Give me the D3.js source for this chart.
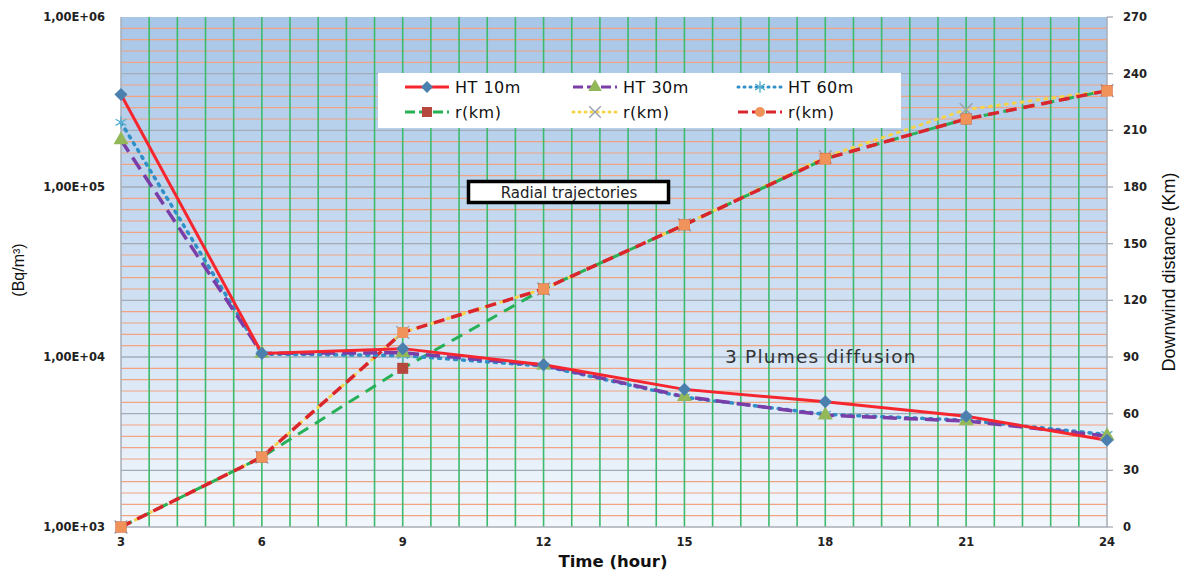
<!DOCTYPE html>
<html>
<head>
<meta charset="utf-8">
<script src="https://cdn.jsdelivr.net/npm/d3@7"></script>
<style>
  body { margin: 0; background: #fff; }
  svg { display: block; }
  .tick-label { font-family: "DejaVu Sans", Verdana, sans-serif; font-size: 11.5px; font-weight: bold; fill: #222; }
  .legend-text { font-family: "DejaVu Sans", Verdana, sans-serif; font-size: 16px; letter-spacing: 0.5px; fill: #111; }
</style>
</head>
<body>
<svg id="chart"></svg>
<script>
// hours on the x axis
const hours = [3, 6, 9, 12, 15, 18, 21, 24]

// concentration (Bq/m3), left log axis
const ht10 = [350000, 10500, 11200, 9000, 6450, 5450, 4480, 3240]
const ht30 = [189000, 10500, 10600, 8950, 5850, 4550, 4200, 3430]
const ht60 = [240000, 10400, 10200, 8850, 5800, 4600, 4250, 3500]

// downwind distance (km), right axis
const rGreen = [0, 37, 84, 126, 160, 195, 216, 231]
const rYellow = [0, 37, 103, 126, 160, 196, 221, 231]
const rRed = [0, 37, 103, 126, 160, 195, 216, 231]

const leftTicks = [1e3, 1e4, 1e5, 1e6]
const leftTickLabels = ['1,00E+03', '1,00E+04', '1,00E+05', '1,00E+06']
const rightTicks = [0, 30, 60, 90, 120, 150, 180, 210, 240, 270]

const W = 1182, H = 570
const M = { left: 121, right: 75, top: 17, bottom: 43 }
const PW = W - M.left - M.right
const PH = H - M.top - M.bottom

const svg = d3.select('#chart').attr('width', W).attr('height', H)

const defs = svg.append('defs')
const grad = defs.append('linearGradient')
  .attr('id', 'bg').attr('x1', 0).attr('y1', 0).attr('x2', 0).attr('y2', 1)
grad.append('stop').attr('offset', '0%').attr('stop-color', '#a8c6e8')
grad.append('stop').attr('offset', '55%').attr('stop-color', '#cfe0f3')
grad.append('stop').attr('offset', '100%').attr('stop-color', '#f2f7fc')

const x = d3.scaleLinear().domain([3, 24]).range([0, PW])
const yL = d3.scaleLog().domain([1e3, 1e6]).range([PH, 0])
const yR = d3.scaleLinear().domain([0, 270]).range([PH, 0])

const g = svg.append('g').attr('transform', `translate(${M.left}, ${M.top})`)

g.append('rect').attr('width', PW).attr('height', PH).attr('fill', 'url(#bg)')

// minor horizontal grid every 6 km (orange), majors every 30 (gray)
g.append('g').selectAll('line')
  .data(d3.range(6, 270, 6).filter(v => v % 30 !== 0))
  .join('line')
  .attr('x1', 0).attr('x2', PW)
  .attr('y1', d => yR(d)).attr('y2', d => yR(d))
  .attr('stroke', '#f2a482').attr('stroke-width', 1.2)

g.append('g').selectAll('line')
  .data(rightTicks.slice(1, -1))
  .join('line')
  .attr('x1', 0).attr('x2', PW)
  .attr('y1', d => yR(d)).attr('y2', d => yR(d))
  .attr('stroke', '#a3abb8').attr('stroke-width', 1.3)

// vertical grid, 5 per 3-hour step
g.append('g').selectAll('line')
  .data(d3.range(1, 35).map(i => 3 + i * 0.6))
  .join('line')
  .attr('x1', d => x(d)).attr('x2', d => x(d))
  .attr('y1', 0).attr('y2', PH)
  .attr('stroke', '#3dba6c').attr('stroke-width', 1.6)

// plot frame
g.append('path')
  .attr('d', `M0,0V${PH}H${PW}V0`)
  .attr('fill', 'none').attr('stroke', '#a8adb6').attr('stroke-width', 1.5)

// axes labels
g.append('g').selectAll('text')
  .data(hours).join('text')
  .attr('class', 'tick-label')
  .attr('x', d => x(d)).attr('y', PH + 19)
  .attr('text-anchor', 'middle')
  .text(d => d)

g.append('g').selectAll('text')
  .data(leftTicks).join('text')
  .attr('class', 'tick-label')
  .attr('x', -16).attr('y', d => yL(d) + 4)
  .attr('text-anchor', 'end')
  .text((d, i) => leftTickLabels[i])

const rAxis = g.append('g').attr('transform', `translate(${PW}, 0)`)
rAxis.selectAll('line')
  .data(rightTicks).join('line')
  .attr('x1', 0).attr('x2', 6)
  .attr('y1', d => yR(d)).attr('y2', d => yR(d))
  .attr('stroke', '#a8adb6').attr('stroke-width', 1.3)
rAxis.selectAll('text')
  .data(rightTicks).join('text')
  .attr('class', 'tick-label')
  .attr('x', 16).attr('y', d => yR(d) + 4)
  .text(d => d)

svg.append('text')
  .attr('x', 613).attr('y', 567)
  .attr('text-anchor', 'middle')
  .attr('font-family', '"DejaVu Sans", Verdana, sans-serif')
  .attr('font-weight', 'bold').attr('font-size', 16.5).attr('fill', '#111')
  .text('Time (hour)')

svg.append('text')
  .attr('transform', 'translate(24, 270) rotate(-90)')
  .attr('text-anchor', 'middle')
  .attr('font-family', '"Liberation Sans Narrow", "Liberation Sans", sans-serif')
  .attr('font-size', 16).attr('fill', '#111')
  .text('(Bq/m³)')

svg.append('text')
  .attr('transform', 'translate(1175, 272) rotate(-90)')
  .attr('text-anchor', 'middle')
  .attr('font-family', '"Liberation Sans Narrow", "Liberation Sans", sans-serif')
  .attr('font-size', 18).attr('fill', '#111')
  .text('Downwind distance (Km)')

// series, in drawing order (last on top)
const series = [
  { vals: rYellow, y: yR, color: '#f5d44a', dash: '2,6', width: 3, marker: 'x', mcolor: '#9aa0aa' },
  { vals: rGreen, y: yR, color: '#27b057', dash: '12,8', width: 3, marker: 'square', mcolor: '#b5473f' },
  { vals: rRed, y: yR, color: '#d9252b', dash: '11,7', width: 3.5, marker: 'rsquare', mcolor: '#f0935a' },
  { vals: ht60, y: yL, color: '#2f8fc6', dash: '2,6', width: 3.5, marker: 'star', mcolor: '#5ab0cf' },
  { vals: ht30, y: yL, color: '#7a3ea8', dash: '14,7', width: 3.5, marker: 'triangle', mcolor: '#93b85a' },
  { vals: ht10, y: yL, color: '#f5262e', dash: null, width: 3, marker: 'diamond', mcolor: '#4b7fae' }
]

function drawMarker(sel, type, color, size) {
  const s = size
  if (type === 'square') {
    sel.append('rect').attr('x', -s / 2).attr('y', -s / 2).attr('width', s).attr('height', s).attr('fill', color)
  } else if (type === 'rsquare') {
    sel.append('rect').attr('x', -s / 2).attr('y', -s / 2).attr('width', s).attr('height', s)
      .attr('rx', 2).attr('fill', color)
  } else if (type === 'circle') {
    sel.append('circle').attr('r', s / 2).attr('fill', color)
  } else if (type === 'x') {
    sel.append('path').attr('d', d3.symbol(d3.symbolX, s * s * 0.9)).attr('stroke', color)
      .attr('stroke-width', 1.4).attr('fill', 'none')
  } else if (type === 'star') {
    sel.append('path').attr('d', d3.symbol(d3.symbolAsterisk, s * s * 0.9)).attr('stroke', color)
      .attr('stroke-width', 1.4).attr('fill', 'none')
  } else if (type === 'triangle') {
    sel.append('path').attr('d', d3.symbol(d3.symbolTriangle, s * s * 0.8)).attr('fill', color)
  } else if (type === 'diamond') {
    sel.append('path').attr('d', d3.symbol(d3.symbolDiamond2, s * s * 0.9)).attr('fill', color)
  }
}

series.forEach(sr => {
  const line = d3.line().x((d, i) => x(hours[i])).y(d => sr.y(d))
  g.append('path')
    .datum(sr.vals)
    .attr('d', line)
    .attr('fill', 'none')
    .attr('stroke', sr.color)
    .attr('stroke-width', sr.width)
    .attr('stroke-linecap', sr.dash === '2,6' ? 'round' : 'butt')
    .attr('stroke-dasharray', sr.dash)
})

series.forEach(sr => {
  g.append('g').selectAll('g')
    .data(sr.vals).join('g')
    .attr('transform', (d, i) => `translate(${x(hours[i])}, ${sr.y(d)})`)
    .each(function () { drawMarker(d3.select(this), sr.marker, sr.mcolor, 11) })
})

// legend
const legend = svg.append('g')
legend.append('rect')
  .attr('x', 378).attr('y', 73).attr('width', 523).attr('height', 55)
  .attr('fill', '#fff')

const legendItems = [
  { label: 'HT 10m', col: 0, row: 0, s: series[5] },
  { label: 'HT 30m', col: 1, row: 0, s: series[4] },
  { label: 'HT 60m', col: 2, row: 0, s: series[3] },
  { label: 'r(km)', col: 0, row: 1, s: series[1] },
  { label: 'r(km)', col: 1, row: 1, s: series[0] },
  { label: 'r(km)', col: 2, row: 1, s: series[2] }
]
const colX = [405, 573, 738]
const rowY = [87, 112]

legendItems.forEach(it => {
  const lx = colX[it.col], ly = rowY[it.row]
  legend.append('line')
    .attr('x1', lx).attr('x2', lx + 44).attr('y1', ly).attr('y2', ly)
    .attr('stroke', it.s.color).attr('stroke-width', 3)
    .attr('stroke-linecap', it.s.dash === '2,6' ? 'round' : 'butt')
    .attr('stroke-dasharray', it.s.dash === '2,6' ? '1,5' : (it.s.dash ? '10,4' : null))
  const mk = legend.append('g').attr('transform', `translate(${lx + 22}, ${ly})`)
  drawMarker(mk, it.s.marker === 'rsquare' ? 'circle' : it.s.marker, it.s.mcolor, 10)
  legend.append('text')
    .attr('class', 'legend-text')
    .attr('x', lx + 50).attr('y', ly + 6)
    .text(it.label)
})

// annotations
svg.append('rect')
  .attr('x', 468.5).attr('y', 181.5).attr('width', 200).attr('height', 21)
  .attr('fill', '#fff').attr('stroke', '#000').attr('stroke-width', 3.5)
svg.append('text')
  .attr('x', 569).attr('y', 197.5)
  .attr('text-anchor', 'middle')
  .attr('font-family', '"DejaVu Sans", Verdana, sans-serif')
  .attr('font-size', 15).attr('fill', '#222')
  .text('Radial trajectories')

svg.append('text')
  .attr('x', 725).attr('y', 363)
  .attr('font-family', '"DejaVu Sans", Verdana, sans-serif')
  .attr('font-size', 18.5).attr('letter-spacing', 1.2).attr('fill', '#333')
  .text('3 Plumes diffusion')
</script>
</body>
</html>
